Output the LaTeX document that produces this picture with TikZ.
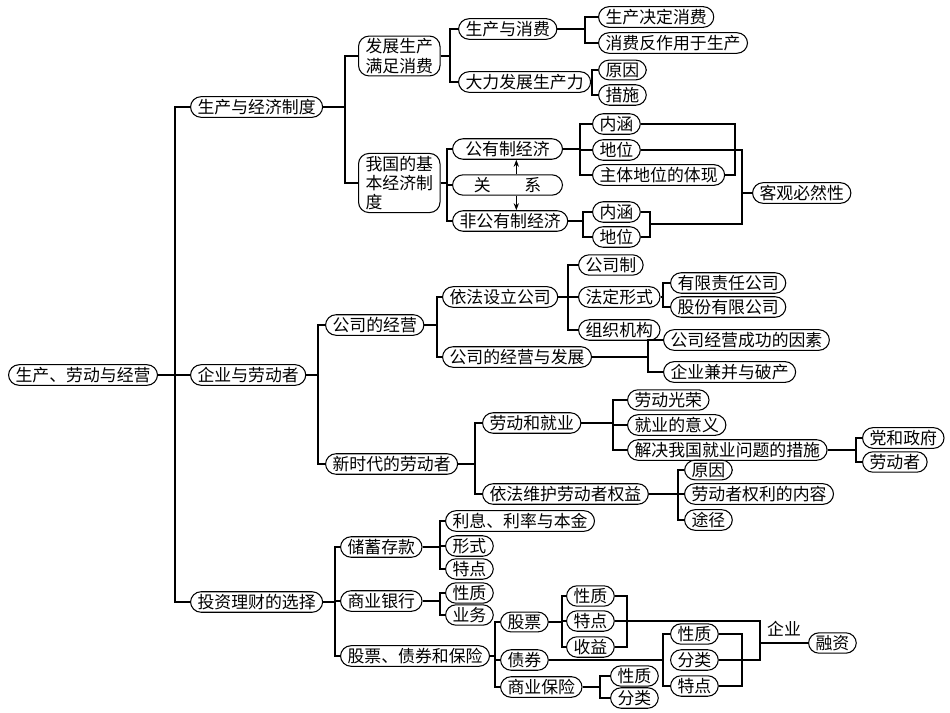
\documentclass[tikz,border=0pt]{standalone}
\usepackage{fontspec}
\newfontfamily\cjk{Noto Sans CJK SC}
\usetikzlibrary{arrows.meta}
\tikzset{
  box/.style={draw, rounded corners=6pt, inner xsep=4pt, inner ysep=1.4pt, anchor=west, font=\cjk\fontsize{9.6}{11}\selectfont, align=left},
  link/.style={line width=0.6pt}
}
% parent, junction x, children
\newcommand\branch[3]{\foreach \c in {#3}{\draw[link] (#1.east) -- (#2,0 |- #1.east) |- (\c.west);}}
\begin{document}
\begin{tikzpicture}[x=0.02cm, y=-0.02cm, line width=0.6pt]
  \useasboundingbox (0,0) rectangle (950,713);
  \node[box] (root) at (8,375) {生产、劳动与经营};
  \node[box] (econ) at (190,107) {生产与经济制度};
  \node[box] (firm) at (190,375) {企业与劳动者};
  \node[box] (invest) at (190,602) {投资理财的选择};
  \branch{root}{175}{econ,firm,invest}
  % first part
  \node[box] (dev) at (358,56) {发展生产\\满足消费};
  \node[box] (basic) at (358,183) {我国的基\\本经济制\\度};
  \branch{econ}{345}{dev,basic}
  \node[box] (pc) at (458,29) {生产与消费};
  \node[box] (force) at (458,82) {大力发展生产力};
  \branch{dev}{450}{pc,force}
  \node[box] (pc1) at (598,17) {生产决定消费};
  \node[box] (pc2) at (598,43) {消费反作用于生产};
  \branch{pc}{585}{pc1,pc2}
  \node[box] (f1) at (598,70) {原因};
  \node[box] (f2) at (598,95) {措施};
  \branch{force}{592}{f1,f2}
  \node[box, minimum width=110*0.02cm] (pub) at (452,149) {公有制经济};
  \node[box, minimum width=110*0.02cm] (rel) at (452,185) {关\qquad 系};
  \node[box, minimum width=110*0.02cm] (npub) at (452,221) {非公有制经济};
  \branch{basic}{447}{pub,rel,npub}
  \draw[-{Stealth[length=4pt]}] ([xshift=5pt]rel.north) -- ([xshift=5pt]rel.north |- pub.south);
  \draw[-{Stealth[length=4pt]}] ([xshift=5pt]rel.south) -- ([xshift=5pt]rel.south |- npub.north);
  \node[box] (p1) at (592,124) {内涵};
  \node[box] (p2) at (592,150) {地位};
  \node[box] (p3) at (592,175) {主体地位的体现};
  \branch{pub}{580}{p1,p2,p3}
  \node[box] (n1) at (592,212) {内涵};
  \node[box] (n2) at (592,237) {地位};
  \branch{npub}{583}{n1,n2}
  \node[box] (must) at (752,193) {客观必然性};
  \draw[link] (p1.east) -| (735,0 |- p3.east) -- (p3.east);
  \draw[link] (n1.east) -| (650,0 |- n2.east) -- (n2.east);
  \draw[link] (p2.east) -| (742,0 |- must.west) |- (650,224);
  \draw[link] (742,0 |- must.west) -- (must.west);
  % second part
  \node[box] (comp) at (325,325) {公司的经营};
  \node[box] (worker) at (325,464) {新时代的劳动者};
  \branch{firm}{318}{comp,worker}
  \node[box] (setup) at (442,297) {依法设立公司};
  \node[box] (grow) at (442,357) {公司的经营与发展};
  \branch{comp}{437}{setup,grow}
  \node[box] (s1) at (578,265) {公司制};
  \node[box] (s2) at (578,297) {法定形式};
  \node[box] (s3) at (578,330) {组织机构};
  \branch{setup}{568}{s1,s2,s3}
  \node[box] (l1) at (670,283) {有限责任公司};
  \node[box] (l2) at (670,307) {股份有限公司};
  \branch{s2}{663}{l1,l2}
  \node[box] (g1) at (663,340) {公司经营成功的因素};
  \node[box] (g2) at (663,372) {企业兼并与破产};
  \branch{grow}{648}{g1,g2}
  \node[box] (job) at (482,423) {劳动和就业};
  \node[box] (right) at (482,494) {依法维护劳动者权益};
  \branch{worker}{475}{job,right}
  \node[box] (j1) at (627,400) {劳动光荣};
  \node[box] (j2) at (627,425) {就业的意义};
  \node[box] (j3) at (627,450) {解决我国就业问题的措施};
  \branch{job}{613}{j1,j2,j3}
  \node[box] (m1) at (862,438) {党和政府};
  \node[box] (m2) at (862,462) {劳动者};
  \branch{j3}{856}{m1,m2}
  \node[box] (r1) at (684,470) {原因};
  \node[box] (r2) at (684,494) {劳动者权利的内容};
  \node[box] (r3) at (684,520) {途径};
  \branch{right}{678}{r1,r2,r3}
  % third part
  \node[box] (save) at (340,547) {储蓄存款};
  \node[box] (bank) at (340,601) {商业银行};
  \node[box] (stock) at (340,656) {股票、债券和保险};
  \branch{invest}{335}{save,bank,stock}
  \node[box] (sv1) at (445,521) {利息、利率与本金};
  \node[box] (sv2) at (445,546) {形式};
  \node[box] (sv3) at (445,569) {特点};
  \branch{save}{440}{sv1,sv2,sv3}
  \node[box] (bk1) at (445,593) {性质};
  \node[box] (bk2) at (445,615) {业务};
  \branch{bank}{440}{bk1,bk2}
  \node[box] (shr) at (500,622) {股票};
  \node[box] (bond) at (500,660) {债券};
  \node[box] (ins) at (500,687) {商业保险};
  \branch{stock}{495}{shr,bond,ins}
  \node[box] (sh1) at (566,596) {性质};
  \node[box] (sh2) at (566,621) {特点};
  \node[box] (sh3) at (566,647) {收益};
  \branch{shr}{562}{sh1,sh2,sh3}
  \draw[link] (sh1.east) -| (627,0 |- sh3.east) -- (sh3.east);
  \node[box] (b1) at (670,634) {性质};
  \node[box] (b2) at (670,660) {分类};
  \node[box] (b3) at (670,686) {特点};
  \draw[link] (bond.east) -- (663,0 |- bond.east);
  \draw[link] (b1.west) -| (663,0 |- b3.west) -- (b3.west);
  \draw[link] (b1.east) -| (742,0 |- b3.east) -- (b3.east);
  \node[box] (i1) at (610,676) {性质};
  \node[box] (i2) at (610,698) {分类};
  \branch{ins}{600}{i1,i2}
  \node[box] (fund) at (808,643) {融资};
  \draw[link] (sh2.east) -| (760,0 |- b2.east) -- (b2.east);
  \draw[link] (760,0 |- fund.west) -- node[above, font=\cjk\fontsize{9.6}{11}\selectfont] {企业} (fund.west);
\end{tikzpicture}
\end{document}
